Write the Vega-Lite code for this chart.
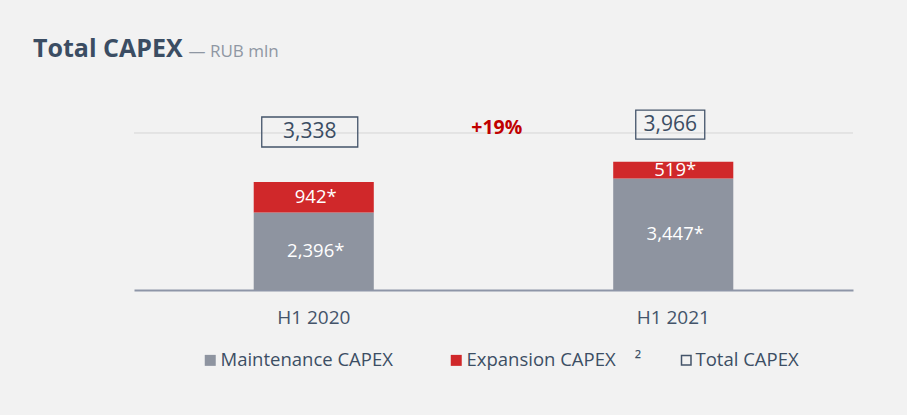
{
  "$schema": "https://vega.github.io/schema/vega-lite/v6.json",
  "width": 719,
  "height": 157,
  "autosize": "none",
  "padding": {"left": 134, "top": 133, "right": 54, "bottom": 125},
  "background": "#f2f2f2",
  "title": {
    "text": "Total CAPEX",
    "anchor": "start",
    "frame": "group",
    "dx": -101,
    "dy": 44,
    "fontSize": 25,
    "fontWeight": "bold",
    "color": "#3b4d63",
    "baseline": "alphabetic"
  },
  "data": {
    "values": [
      {"period": "H1 2020", "type": "Maintenance CAPEX", "value": 2396},
      {"period": "H1 2020", "type": "Expansion CAPEX", "value": 942},
      {"period": "H1 2021", "type": "Maintenance CAPEX", "value": 3447},
      {"period": "H1 2021", "type": "Expansion CAPEX", "value": 519}
    ]
  },
  "layer": [
    {
      "mark": {"type": "rule", "color": "#e3e3e3", "strokeWidth": 1},
      "encoding": {"y": {"datum": 4853, "type": "quantitative", "title": "— RUB mln"}}
    },
    {
      "transform": [
        {"stack": "value", "groupby": ["period"], "sort": [{"field": "type", "order": "descending"}], "as": ["v0", "v1"]}
      ],
      "mark": {"type": "bar"},
      "encoding": {
        "x": {"field": "period", "type": "nominal", "title": null, "sort": null,
              "scale": {"paddingInner": 0.666, "paddingOuter": 0.333}},
        "y": {"field": "v1", "type": "quantitative", "title": "— RUB mln", "scale": {"domain": [0, 4853], "nice": false, "zero": true}},
        "y2": {"field": "v0"},
        "color": {
          "field": "type", "type": "nominal",
          "scale": {"domain": ["Maintenance CAPEX", "Expansion CAPEX"], "range": ["#8e94a0", "#d0282a"]},
          "legend": {
            "title": null,
            "orient": "none",
            "direction": "horizontal",
            "legendX": 67,
            "legendY": 218,
            "symbolType": "square",
            "symbolSize": 121,
            "labelFontSize": 18.5,
            "labelColor": "#3c4e64",
            "labelOffset": 1,
            "labelLimit": 0,
            "columnPadding": 54,
            "padding": 0,
            "labelExpr": "datum.label === 'Expansion CAPEX' ? 'Expansion CAPEX\u00a0\u00a0\u00a0\u00a0²' : datum.label"
          }
        }
      }
    },
    {
      "transform": [
        {"stack": "value", "groupby": ["period"], "sort": [{"field": "type", "order": "descending"}], "as": ["v0", "v1"]},
        {"calculate": "(datum.v0 + datum.v1) / 2", "as": "mid"},
        {"calculate": "format(datum.value, ',') + '*'", "as": "label"}
      ],
      "mark": {"type": "text", "color": "white", "fontSize": 18.5, "baseline": "middle", "dx": 2},
      "encoding": {
        "x": {"field": "period", "type": "nominal", "title": null, "sort": null},
        "y": {"field": "mid", "type": "quantitative", "title": "— RUB mln"},
        "text": {"field": "label"}
      }
    },
    {
      "transform": [
        {"aggregate": [{"op": "sum", "field": "value", "as": "total"}], "groupby": ["period"]},
        {"calculate": "'Total CAPEX'", "as": "series"},
        {"filter": "datum.period === 'H1 2020'"}
      ],
      "layer": [
        {
          "mark": {"type": "point", "shape": "M-1,-0.3125L1,-0.3125L1,0.3125L-1,0.3125Z", "size": 9216, "filled": false, "strokeWidth": 1.3, "opacity": 1, "xOffset": -4, "yOffset": -50},
          "encoding": {
            "x": {"field": "period", "type": "nominal", "title": null, "sort": null},
            "y": {"field": "total", "type": "quantitative", "title": "— RUB mln"},
            "stroke": {
              "field": "series", "type": "nominal",
              "scale": {"domain": ["Total CAPEX"], "range": ["#44546a"]},
              "legend": {
                "title": null,
                "orient": "none",
                "legendX": 543,
                "legendY": 218,
                "symbolType": "square",
                "symbolSize": 90,
                "symbolStrokeWidth": 1.5,
                "symbolFillColor": "transparent",
                "labelFontSize": 18.5,
                "labelColor": "#3c4e64",
                "labelOffset": 0,
                "labelLimit": 0,
                "padding": 0
              }
            }
          }
        },
        {
          "mark": {"type": "text", "fontSize": 21, "color": "#3b4d63", "baseline": "middle", "xOffset": -4, "yOffset": -50},
          "encoding": {
            "x": {"field": "period", "type": "nominal", "title": null, "sort": null},
            "y": {"field": "total", "type": "quantitative", "title": "— RUB mln"},
            "text": {"field": "total", "format": ","}
          }
        }
      ]
    },
    {
      "transform": [
        {"aggregate": [{"op": "sum", "field": "value", "as": "total"}], "groupby": ["period"]},
        {"calculate": "'Total CAPEX'", "as": "series"},
        {"filter": "datum.period === 'H1 2021'"}
      ],
      "layer": [
        {
          "mark": {"type": "point", "shape": "M-1,-0.42L1,-0.42L1,0.42L-1,0.42Z", "size": 4761, "filled": false, "strokeWidth": 1.3, "opacity": 1, "xOffset": -3, "yOffset": -37},
          "encoding": {
            "x": {"field": "period", "type": "nominal", "title": null, "sort": null},
            "y": {"field": "total", "type": "quantitative", "title": "— RUB mln"},
            "stroke": {
              "field": "series", "type": "nominal",
              "scale": {"domain": ["Total CAPEX"], "range": ["#44546a"]},
              "legend": {
                "title": null,
                "orient": "none",
                "legendX": 543,
                "legendY": 218,
                "symbolType": "square",
                "symbolSize": 90,
                "symbolStrokeWidth": 1.5,
                "symbolFillColor": "transparent",
                "labelFontSize": 18.5,
                "labelColor": "#3c4e64",
                "labelOffset": 0,
                "labelLimit": 0,
                "padding": 0
              }
            }
          }
        },
        {
          "mark": {"type": "text", "fontSize": 21, "color": "#3b4d63", "baseline": "middle", "xOffset": -3, "yOffset": -37},
          "encoding": {
            "x": {"field": "period", "type": "nominal", "title": null, "sort": null},
            "y": {"field": "total", "type": "quantitative", "title": "— RUB mln"},
            "text": {"field": "total", "format": ","}
          }
        }
      ]
    },
    {
      "data": {"values": [{"label": "+19%"}]},
      "mark": {"type": "text", "fontSize": 19.5, "fontWeight": "bold", "color": "#c00000", "baseline": "middle", "dx": 183},
      "encoding": {
        "x": {"datum": "H1 2020", "type": "nominal", "title": null},
        "y": {"datum": 5000, "type": "quantitative", "title": "— RUB mln"},
        "text": {"field": "label"}
      }
    }
  ],
  "config": {
    "font": "Open Sans",
    "view": {"stroke": null},
    "axisX": {
      "labelAngle": 0,
      "labelFontSize": 19,
      "labelColor": "#44546a",
      "labelPadding": 18,
      "ticks": false,
      "domainColor": "#8e96a8",
      "domainWidth": 2
    },
    "axisY": {
      "labels": false,
      "ticks": false,
      "domain": false,
      "grid": false,
      "titleAngle": 0,
      "titleX": 54,
      "titleY": -77,
      "titleAlign": "left",
      "titleBaseline": "alphabetic",
      "titleFontSize": 17,
      "titleFontWeight": "normal",
      "titleColor": "#8f97a3"
    }
  }
}
